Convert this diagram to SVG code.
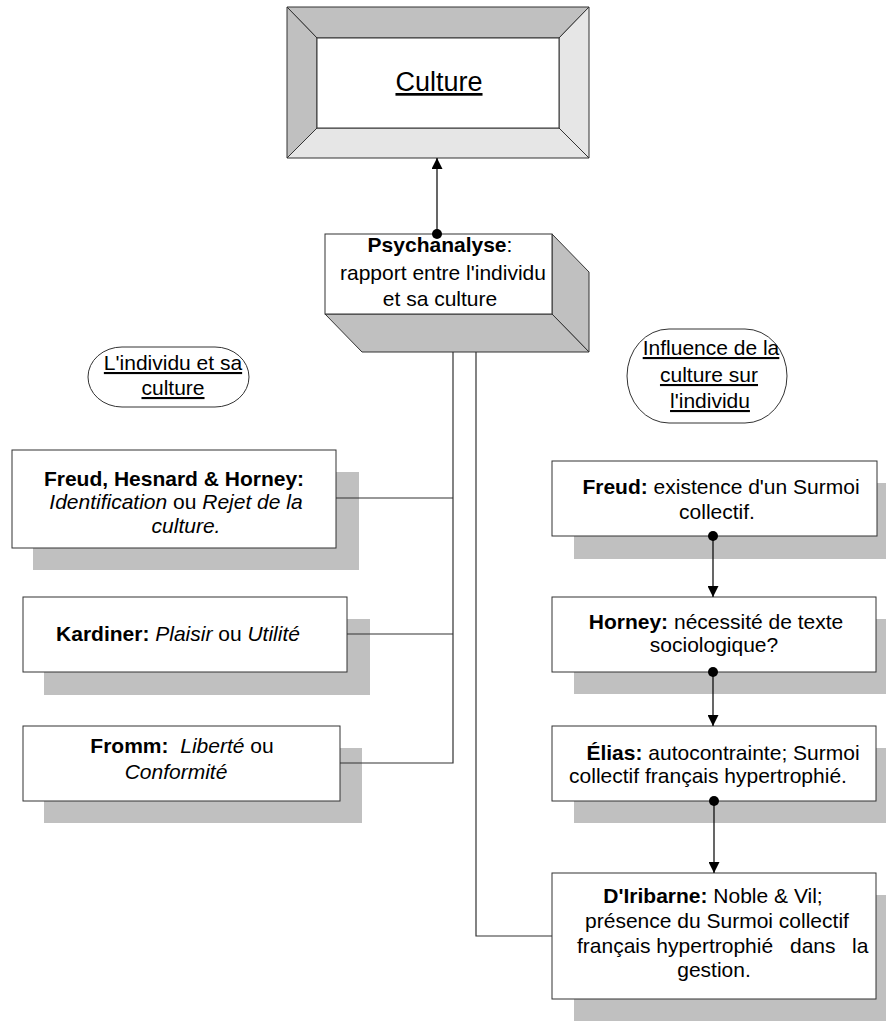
<svg xmlns="http://www.w3.org/2000/svg" width="886" height="1021" viewBox="0 0 886 1021">
<style>
  text { font-family: "Liberation Sans", Arial, sans-serif; font-size: 21px; fill: #000; }
  .c { text-anchor: middle; }
  .b { font-weight: bold; }
  .i { font-style: italic; }
  .u { text-decoration: underline; }
  .box { fill: #fff; stroke: #333; stroke-width: 1; }
  .shadow { fill: #c0c0c0; stroke: none; }
  .dark { fill: #c0c0c0; stroke: #333; stroke-width: 1; }
  .light { fill: #e6e6e6; stroke: #333; stroke-width: 1; }
  .line { fill: none; stroke: #333; stroke-width: 1.2; }
  .arrow { fill: none; stroke: #000; stroke-width: 1.2; }
  .dot { fill: #000; }
</style>
<defs>
  <marker id="ah" viewBox="0 0 10 10" refX="10" refY="5" markerWidth="11" markerHeight="11" markerUnits="userSpaceOnUse" orient="auto">
    <path d="M0,0 L10,5 L0,10 z" fill="#000"/>
  </marker>
</defs>
<rect width="886" height="1021" fill="#fff"/>

<g id="culture">
  <polygon class="dark" points="287,7 589,7 559,38 317,38"/>
  <polygon class="dark" points="287,7 317,38 317,128 287,158"/>
  <polygon class="light" points="589,7 589,158 559,128 559,38"/>
  <polygon class="light" points="287,158 317,128 559,128 589,158"/>
  <rect class="box" x="317" y="38" width="242" height="90"/>
  <text class="c u" x="439" y="91" style="font-size:27px">Culture</text>
</g>

<g id="psychanalyse">
  <polygon class="dark" points="552,234 589,272 589,352 552,314"/>
  <polygon class="dark" points="325,314 552,314 589,352 362,352"/>
  <rect class="box" x="325" y="234" width="227" height="80"/>
  <text class="c" x="440" y="252"><tspan class="b">Psychanalyse</tspan>:</text>
  <text class="c" x="443" y="280">rapport entre l'individu</text>
  <text class="c" x="440" y="306">et sa culture</text>
</g>

<g id="oval-individu">
  <rect class="box" x="88" y="347" width="161" height="60" rx="34" ry="30"/>
  <text class="c u" x="173" y="370">L'individu et sa</text>
  <text class="c u" x="173" y="395">culture</text>
</g>

<g id="oval-influence">
  <rect class="box" x="627" y="329" width="160" height="94" rx="42" ry="47"/>
  <text class="c u" x="711" y="355">Influence de la</text>
  <text class="c u" x="709" y="382">culture sur</text>
  <text class="c u" x="710" y="408">l'individu</text>
</g>

<g id="freud-hesnard-horney">
  <rect class="shadow" x="33" y="472" width="326" height="98"/>
  <rect class="box" x="12" y="450" width="324" height="98"/>
  <text class="c b" x="174" y="486">Freud, Hesnard &amp; Horney:</text>
  <text class="c" x="176" y="509"><tspan class="i">Identification</tspan> ou <tspan class="i">Rejet de la</tspan></text>
  <text class="c i" x="186" y="533">culture.</text>
</g>

<g id="kardiner">
  <rect class="shadow" x="44" y="619" width="326" height="76"/>
  <rect class="box" x="23" y="597" width="324" height="75"/>
  <text class="c" x="178" y="641"><tspan class="b">Kardiner:</tspan> <tspan class="i">Plaisir</tspan> ou <tspan class="i">Utilité</tspan></text>
</g>

<g id="fromm">
  <rect class="shadow" x="44" y="748" width="318" height="75"/>
  <rect class="box" x="23" y="726" width="317" height="75"/>
  <text class="c" x="182" y="753" xml:space="preserve"><tspan class="b">Fromm:</tspan>  <tspan class="i">Liberté</tspan> ou</text>
  <text class="c i" x="176" y="779">Conformité</text>
</g>

<g id="freud">
  <rect class="shadow" x="574" y="483" width="312" height="76"/>
  <rect class="box" x="552" y="461" width="325" height="75"/>
  <text class="c" x="721" y="494"><tspan class="b">Freud:</tspan> existence d'un Surmoi</text>
  <text class="c" x="717" y="519">collectif.</text>
</g>

<g id="horney">
  <rect class="shadow" x="574" y="619" width="312" height="75"/>
  <rect class="box" x="552" y="597" width="324" height="75"/>
  <text class="c" x="716" y="629"><tspan class="b">Horney:</tspan> nécessité de texte</text>
  <text class="c" x="714" y="652">sociologique?</text>
</g>

<g id="elias">
  <rect class="shadow" x="574" y="748" width="312" height="75"/>
  <rect class="box" x="552" y="726" width="324" height="75"/>
  <text class="c" x="723" y="760"><tspan class="b">Élias:</tspan> autocontrainte; Surmoi</text>
  <text class="c" x="708" y="783">collectif français hypertrophié.</text>
</g>

<g id="diribarne">
  <rect class="shadow" x="574" y="895" width="312" height="126"/>
  <rect class="box" x="552" y="873" width="324" height="126"/>
  <text class="c" x="713" y="903"><tspan class="b">D'Iribarne:</tspan> Noble &amp; Vil;</text>
  <text class="c" x="717" y="928">présence du Surmoi collectif</text>
  <text x="577" y="953">français hypertrophié</text>
  <text x="790" y="953">dans</text>
  <text x="852" y="953">la</text>
  <text class="c" x="714" y="977">gestion.</text>
</g>

<g id="connectors">
  <line class="arrow" x1="437" y1="234" x2="437" y2="158" marker-end="url(#ah)"/>
  <circle class="dot" cx="437" cy="234" r="5"/>
  <polyline class="line" points="453,352 453,763 340,763"/>
  <line class="line" x1="336" y1="498" x2="453" y2="498"/>
  <line class="line" x1="347" y1="634" x2="453" y2="634"/>
  <polyline class="line" points="476,352 476,936 552,936"/>
  <line class="arrow" x1="713" y1="536" x2="713" y2="597" marker-end="url(#ah)"/>
  <circle class="dot" cx="713" cy="536" r="5"/>
  <line class="arrow" x1="713" y1="672" x2="713" y2="726" marker-end="url(#ah)"/>
  <circle class="dot" cx="713" cy="672" r="5"/>
  <line class="arrow" x1="714" y1="801" x2="714" y2="873" marker-end="url(#ah)"/>
  <circle class="dot" cx="714" cy="801" r="5"/>
</g>
</svg>
